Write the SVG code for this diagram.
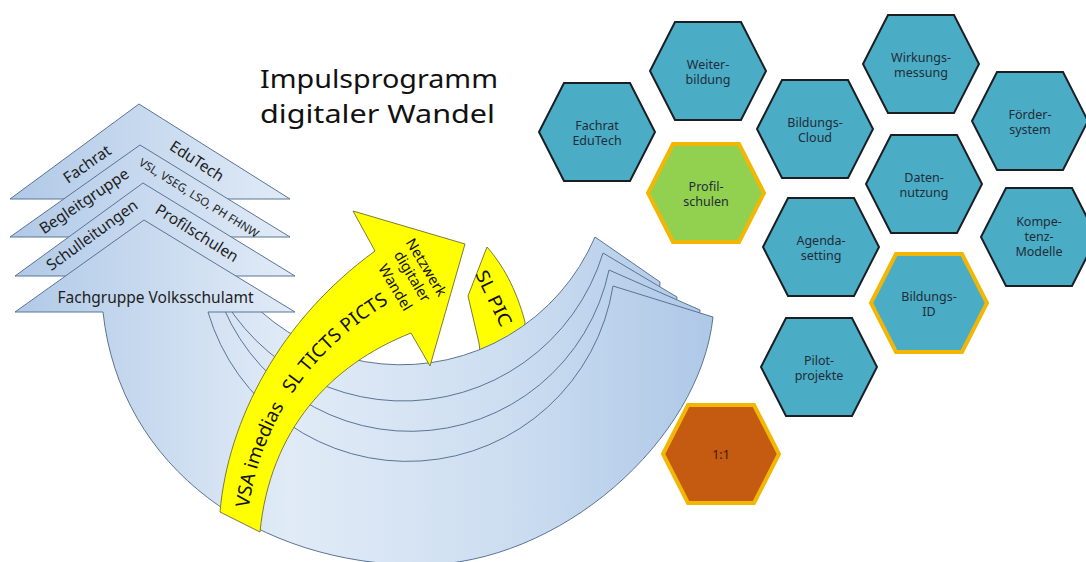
<svg xmlns="http://www.w3.org/2000/svg" width="1086" height="562" viewBox="0 0 1086 562">
<defs>
<linearGradient id="gb" gradientUnits="userSpaceOnUse" x1="10" y1="0" x2="713" y2="0">
<stop offset="0" stop-color="#b0c9e7"/>
<stop offset="0.4" stop-color="#e1ebf7"/>
<stop offset="0.7" stop-color="#cddef1"/>
<stop offset="1" stop-color="#aec8e7"/>
</linearGradient>
<polygon id="hx" points="-58,0 -33,-49 33,-49 58,0 33,49 -33,49"/>
<path id="yp" d="M247,523 C256,426 310,348 397,298"/>
<style>
.layer{fill:url(#gb);stroke:#5b7494;stroke-width:1}
.lbl{font-family:'Noto Sans','Open Sans',sans-serif;fill:#1e1e1e;font-size:15.5px;text-anchor:middle}
.small{font-size:11.5px}
.hex{stroke:#1b1f24;stroke-width:2}
.teal{fill:#4bacc6}
.gold{stroke:#f2b705;stroke-width:4}
.ht{font-family:'Noto Sans','Open Sans',sans-serif;font-size:12.5px;fill:#1f2c38;text-anchor:middle}
.yel{fill:#ffff00;stroke:#7d7a3c;stroke-width:1}
.yt{font-family:'Noto Sans','Open Sans',sans-serif;fill:#111}
.title{font-family:'Noto Sans','Open Sans',sans-serif;font-size:25px;fill:#111}
</style>
</defs>
<rect width="1086" height="562" fill="#ffffff"/>

<g id="title">
<text class="title" x="260" y="88" textLength="238" lengthAdjust="spacingAndGlyphs">Impulsprogramm</text>
<text class="title" x="260" y="123" textLength="235" lengthAdjust="spacingAndGlyphs">digitaler Wandel</text>
</g>

<g id="sl-pic">
<path class="yel" d="M487,247 C502,264 516,288 525,322 L522,385 L484,385 L479,343 L468,296 Z"/>
<text class="yt" style="font-size:18px" transform="translate(475,274) rotate(64)" textLength="60" lengthAdjust="spacingAndGlyphs">SL PIC</text>
</g>

<g id="connectors">
<path id="layer-fachrat" class="layer" d="M105,199 L10,199 L139,104 L290,199 L195,199 A211 211 0 0 0 595,237 L660,282 C655,420 550,515 420,515 C270,515 125,420 105,199 Z"/>
<path id="layer-begleit" class="layer" d="M106,237 L10,237 L140,145 L290,237 L199,237 A209 209 0 0 0 603,253 L677,297 C670,430 560,530 420,530 C270,530 125,430 106,237 Z"/>
<path id="layer-schulleitung" class="layer" d="M108,276 L15,276 L143,183 L295,276 L213,276 A203 203 0 0 0 609,270 L700,310 C690,440 570,545 420,545 C270,545 125,450 108,276 Z"/>
<path id="layer-fachgruppe" class="layer" d="M103,312 L15,312 L144,220 L295,312 L208,312 A208 208 0 0 0 613,286 L713,317 C700,440 560,565 420,565 C260,565 120,470 103,312 Z"/>
</g>

<g id="chevron-labels">
<text class="lbl" transform="translate(87,164) rotate(-35)" dy="0.35em">Fachrat</text>
<text class="lbl" transform="translate(197,161) rotate(33)" dy="0.35em">EduTech</text>
<text class="lbl" transform="translate(84,201) rotate(-34)" dy="0.35em">Begleitgruppe</text>
<text class="lbl small" transform="translate(199,198) rotate(32)" dy="0.35em">VSL, VSEG, LSO, PH FHNW</text>
<text class="lbl" transform="translate(92,235) rotate(-36)" dy="0.35em">Schulleitungen</text>
<text class="lbl" transform="translate(197,233) rotate(32)" dy="0.35em">Profilschulen</text>
<text class="lbl" x="155.5" y="302.5">Fachgruppe Volksschulamt</text>
</g>

<g id="yellow-arrow">
<path class="yel" d="M220,512 C228,420 280,320 375,251 L353,211 L465,244 L430,366 L411,333 C330,365 270,430 260,532 Z"/>
<text class="yt" style="font-size:19px"><textPath href="#yp" startOffset="15">VSA  imedias</textPath></text>
<text class="yt" style="font-size:19px"><textPath href="#yp" startOffset="138" textLength="134" lengthAdjust="spacing">SL  TICTS  PICTS</textPath></text>
<text class="yt" style="font-size:14.5px" text-anchor="middle" transform="translate(422,270) rotate(59)">Netzwerk</text>
<text class="yt" style="font-size:14.5px" text-anchor="middle" transform="translate(408,279) rotate(59)">digitaler</text>
<text class="yt" style="font-size:14.5px" text-anchor="middle" transform="translate(391,290) rotate(59)">Wandel</text>
</g>

<g id="hex-fachrat" transform="translate(597,132)">
<use href="#hx" class="hex teal"/>
<text class="ht" y="-2">Fachrat</text><text class="ht" y="13">EduTech</text>
</g>
<g id="hex-weiterbildung" transform="translate(708,71)">
<use href="#hx" class="hex teal"/>
<text class="ht" y="-2">Weiter-</text><text class="ht" y="13">bildung</text>
</g>
<g id="hex-profilschulen" transform="translate(706,193)">
<use href="#hx" class="gold" fill="#92d050"/>
<text class="ht" y="-2">Profil-</text><text class="ht" y="13">schulen</text>
</g>
<g id="hex-bildungscloud" transform="translate(815,129)">
<use href="#hx" class="hex teal"/>
<text class="ht" y="-2">Bildungs-</text><text class="ht" y="13">Cloud</text>
</g>
<g id="hex-wirkungsmessung" transform="translate(921,64)">
<use href="#hx" class="hex teal"/>
<text class="ht" y="-2">Wirkungs-</text><text class="ht" y="13">messung</text>
</g>
<g id="hex-foerdersystem" transform="translate(1030,121)">
<use href="#hx" class="hex teal"/>
<text class="ht" y="-2">Förder-</text><text class="ht" y="13">system</text>
</g>
<g id="hex-datennutzung" transform="translate(924,184)">
<use href="#hx" class="hex teal"/>
<text class="ht" y="-2">Daten-</text><text class="ht" y="13">nutzung</text>
</g>
<g id="hex-agendasetting" transform="translate(821,247)">
<use href="#hx" class="hex teal"/>
<text class="ht" y="-2">Agenda-</text><text class="ht" y="13">setting</text>
</g>
<g id="hex-kompetenzmodelle" transform="translate(1039,237)">
<use href="#hx" class="hex teal"/>
<text class="ht" y="-11">Kompe-</text><text class="ht" y="4">tenz-</text><text class="ht" y="19">Modelle</text>
</g>
<g id="hex-bildungsid" transform="translate(929,303)">
<use href="#hx" class="gold" fill="#4bacc6"/>
<text class="ht" y="-2">Bildungs-</text><text class="ht" y="13">ID</text>
</g>
<g id="hex-pilotprojekte" transform="translate(819,367)">
<use href="#hx" class="hex teal"/>
<text class="ht" y="-2">Pilot-</text><text class="ht" y="13">projekte</text>
</g>
<g id="hex-einszueins" transform="translate(721,454)">
<use href="#hx" class="gold" fill="#c55a11"/>
<text class="ht" y="5" style="fill:#3a1c08">1:1</text>
</g>
</svg>
